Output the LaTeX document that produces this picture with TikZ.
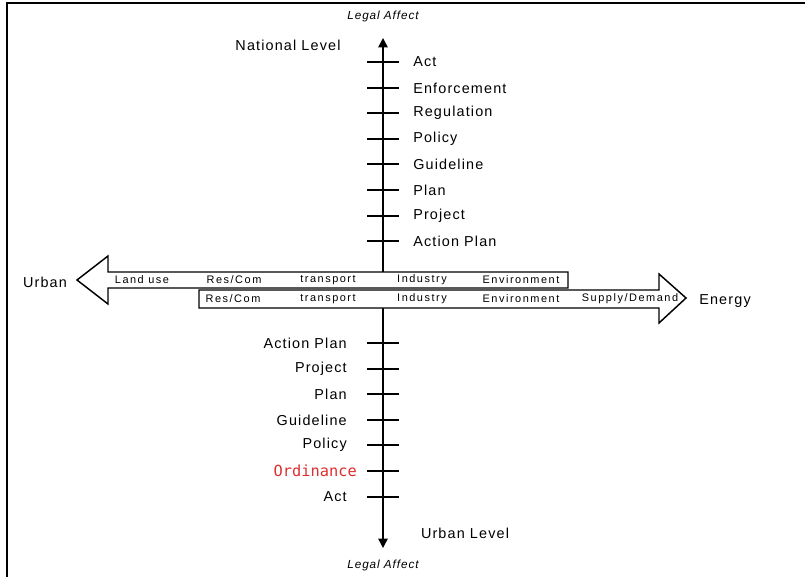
\documentclass[tikz,border=0pt]{standalone}
\usepackage{fontspec}
\setmainfont{Liberation Sans}
\newfontfamily\lblfont[LetterSpace=8]{Liberation Sans}
\newfontfamily\blkfont[LetterSpace=14]{Liberation Sans}
\newfontfamily\ordfont{DejaVu Sans Mono}
\usepackage{tikz}
\usetikzlibrary{arrows.meta}
\definecolor{ordred}{rgb}{0.87,0.18,0.18}

\begin{document}
\begin{tikzpicture}[x=0.75pt,y=-0.75pt,
  lbl/.style={font=\lblfont\fontsize{10.8}{12}\selectfont,inner sep=0pt},
  blk/.style={font=\blkfont\fontsize{8.2}{10}\selectfont,inner sep=0pt},
  legal/.style={font=\lblfont\itshape\fontsize{8.8}{10}\selectfont,inner sep=0pt},
  tickline/.style={line width=1.1pt},
  band/.style={draw,line width=1.1pt,fill=white,line join=miter}]
  \useasboundingbox (0,0) rectangle (805,577);
  \draw[line width=1.4pt] (7,577) -- (7,3) -- (805,3);
  %axis
  \coordinate (up) at (383,38);
  \coordinate (dn) at (383,548);
  \coordinate (up-end) at (383,274);
  \coordinate (dn-end) at (383,306);
  \draw[line width=1.1pt,{Triangle[width=7pt,length=7pt]}-] (up) -- (up-end);
  \draw[line width=1.1pt,-{Triangle[width=7pt,length=7pt]}] (dn-end) -- (dn);
  \node[legal] (la-up) at (383,16) {Legal Affect};
  \node[legal] (la-dn) at (383,565) {Legal Affect};
  %top
  \node[lbl] (natl) at (288,45) {National Level};
  \foreach \lab [count=\i from 0] in {Act,Enforcement,Regulation,Policy,Guideline,Plan,Project,Action Plan}{
    \pgfmathsetmacro\yy{round(62+25.6*\i)}
    \draw[tickline] (367,\yy) -- (399,\yy);
    \node[lbl,anchor=west] (nat\i) at (413,\yy) {\lab};
  }
  %bottom
  \node[lbl] (urbl) at (465,533) {Urban Level};
  \foreach \i/\lab in {0/Action Plan,1/Project,2/Plan,3/Guideline,4/Policy,6/Act}{
    \pgfmathsetmacro\yy{round(343+25.6*\i)}
    \draw[tickline] (367,\yy) -- (399,\yy);
    \node[lbl,anchor=east] (urb\i) at (347,\yy) {\lab};
  }
  \draw[tickline] (367,471) -- (399,471);
  \node[anchor=east,inner sep=0pt,text=ordred,font=\ordfont\fontsize{11.5}{13}\selectfont] (urb5) at (357,471) {Ordinance};
  %left
  \draw[band] (568,272) -- (108,272) -- (108,256) -- (77,280) -- (108,304) -- (108,288) -- (568,288) -- cycle;
  \node[lbl] (urban) at (45,282) {Urban};
  \foreach \xx/\lab [count=\i] in {142/Land use,234/{Res/Com},328/transport,422/Industry,521/Environment}{
    \node[blk] (lft\i) at (\xx,280) {\lab};
  }
  %right
  \draw[band] (199,290) -- (659,290) -- (659,274) -- (686,298) -- (659,323) -- (659,308) -- (199,308) -- cycle;
  \node[lbl] (energy) at (725,301) {Energy};
  \foreach \xx/\lab [count=\i] in {233/{Res/Com},328/transport,422/Industry,521/Environment,630/{Supply/Demand}}{
    \node[blk] (rgt\i) at (\xx,299) {\lab};
  }
\end{tikzpicture}
\end{document}
